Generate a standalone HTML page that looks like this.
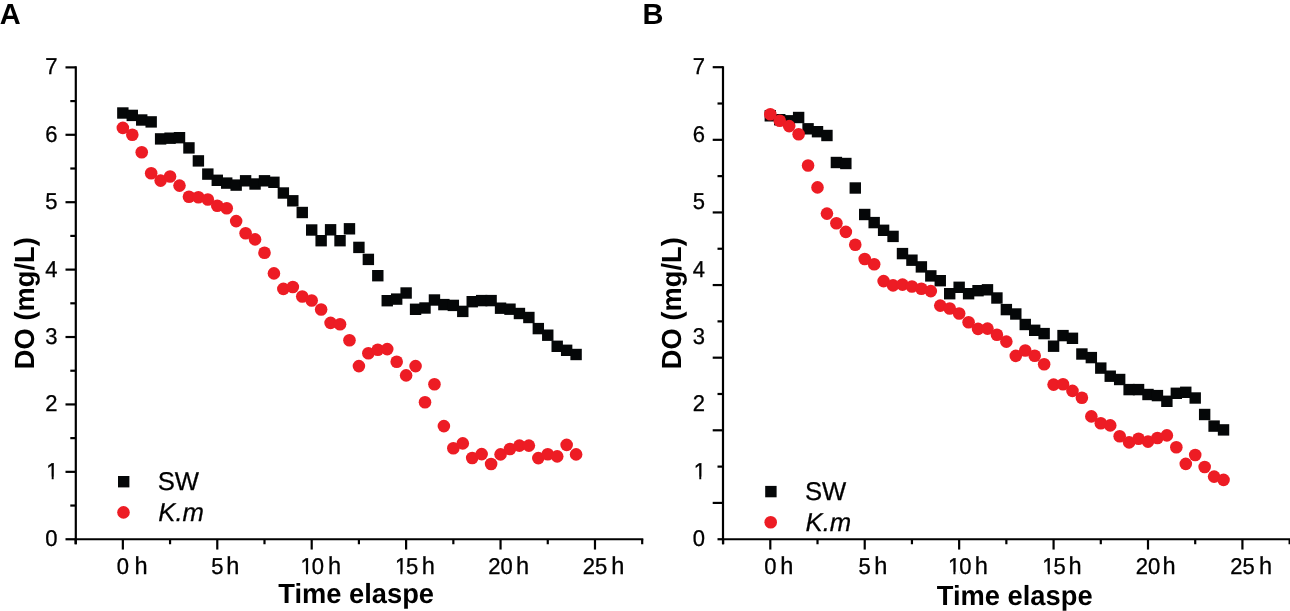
<!DOCTYPE html>
<html><head><meta charset="utf-8"><style>
html,body{margin:0;padding:0;background:#fff;}
svg{display:block;}
#w{will-change:transform;width:1290px;height:611px;}
text{font-family:"Liberation Sans",sans-serif;fill:#000;text-rendering:geometricPrecision;}
.tl{font-size:22px;stroke:#000;stroke-width:0.3px;}
.lg{font-size:25.7px;stroke:#000;stroke-width:0.25px;}
.th{font-size:23.6px;stroke:#000;stroke-width:0.3px;}
.tt{font-size:27.3px;font-weight:bold;}
.pl{font-size:29px;font-weight:bold;}
</style></head><body>
<div id="w">
<svg width="1290" height="611" viewBox="0 0 1290 611">
<rect width="1290" height="611" fill="#fff"/>
<line x1="75.80" y1="66.2" x2="75.80" y2="544.25" stroke="#000" stroke-width="2.2"/>
<line x1="74.70" y1="539.25" x2="643.29" y2="539.25" stroke="#000" stroke-width="2.2"/>
<line x1="65.50" y1="539.25" x2="75.80" y2="539.25" stroke="#000" stroke-width="2.2"/>
<line x1="70.30" y1="505.55" x2="75.80" y2="505.55" stroke="#000" stroke-width="2.2"/>
<line x1="65.50" y1="471.84" x2="75.80" y2="471.84" stroke="#000" stroke-width="2.2"/>
<line x1="70.30" y1="438.13" x2="75.80" y2="438.13" stroke="#000" stroke-width="2.2"/>
<line x1="65.50" y1="404.43" x2="75.80" y2="404.43" stroke="#000" stroke-width="2.2"/>
<line x1="70.30" y1="370.73" x2="75.80" y2="370.73" stroke="#000" stroke-width="2.2"/>
<line x1="65.50" y1="337.02" x2="75.80" y2="337.02" stroke="#000" stroke-width="2.2"/>
<line x1="70.30" y1="303.31" x2="75.80" y2="303.31" stroke="#000" stroke-width="2.2"/>
<line x1="65.50" y1="269.61" x2="75.80" y2="269.61" stroke="#000" stroke-width="2.2"/>
<line x1="70.30" y1="235.91" x2="75.80" y2="235.91" stroke="#000" stroke-width="2.2"/>
<line x1="65.50" y1="202.20" x2="75.80" y2="202.20" stroke="#000" stroke-width="2.2"/>
<line x1="70.30" y1="168.50" x2="75.80" y2="168.50" stroke="#000" stroke-width="2.2"/>
<line x1="65.50" y1="134.79" x2="75.80" y2="134.79" stroke="#000" stroke-width="2.2"/>
<line x1="70.30" y1="101.09" x2="75.80" y2="101.09" stroke="#000" stroke-width="2.2"/>
<line x1="65.50" y1="67.38" x2="75.80" y2="67.38" stroke="#000" stroke-width="2.2"/>
<line x1="75.64" y1="539.25" x2="75.64" y2="544.25" stroke="#000" stroke-width="2.2"/>
<line x1="122.85" y1="539.25" x2="122.85" y2="549.55" stroke="#000" stroke-width="2.2"/>
<line x1="170.06" y1="539.25" x2="170.06" y2="544.25" stroke="#000" stroke-width="2.2"/>
<line x1="217.28" y1="539.25" x2="217.28" y2="549.55" stroke="#000" stroke-width="2.2"/>
<line x1="264.49" y1="539.25" x2="264.49" y2="544.25" stroke="#000" stroke-width="2.2"/>
<line x1="311.70" y1="539.25" x2="311.70" y2="549.55" stroke="#000" stroke-width="2.2"/>
<line x1="358.91" y1="539.25" x2="358.91" y2="544.25" stroke="#000" stroke-width="2.2"/>
<line x1="406.12" y1="539.25" x2="406.12" y2="549.55" stroke="#000" stroke-width="2.2"/>
<line x1="453.34" y1="539.25" x2="453.34" y2="544.25" stroke="#000" stroke-width="2.2"/>
<line x1="500.55" y1="539.25" x2="500.55" y2="549.55" stroke="#000" stroke-width="2.2"/>
<line x1="547.76" y1="539.25" x2="547.76" y2="544.25" stroke="#000" stroke-width="2.2"/>
<line x1="594.98" y1="539.25" x2="594.98" y2="549.55" stroke="#000" stroke-width="2.2"/>
<line x1="642.19" y1="539.25" x2="642.19" y2="544.25" stroke="#000" stroke-width="2.2"/>
<text transform="translate(45.16,546.15) scale(1,1.04)" class="tl">0</text>
<text transform="translate(46.16,478.74) scale(1,1.04)" class="tl">1</text>
<rect x="46.27" y="476.68" width="5.43" height="3.66" fill="#fff"/>
<rect x="53.64" y="476.68" width="4.41" height="3.66" fill="#fff"/>
<text transform="translate(45.16,411.33) scale(1,1.04)" class="tl">2</text>
<text transform="translate(45.16,343.92) scale(1,1.04)" class="tl">3</text>
<text transform="translate(45.16,276.51) scale(1,1.04)" class="tl">4</text>
<text transform="translate(45.16,209.10) scale(1,1.04)" class="tl">5</text>
<text transform="translate(45.16,141.69) scale(1,1.04)" class="tl">6</text>
<text transform="translate(45.16,74.28) scale(1,1.04)" class="tl">7</text>
<text transform="translate(116.73,573.9) scale(1,1.04)" class="tl">0</text>
<text transform="translate(134.50,573.9) scale(1,1.04)" class="th">h</text>
<text transform="translate(211.16,573.9) scale(1,1.04)" class="tl">5</text>
<text transform="translate(226.20,573.9) scale(1,1.04)" class="th">h</text>
<text transform="translate(300.46,573.9) scale(1,1.04)" class="tl">1</text>
<rect x="300.57" y="571.84" width="5.43" height="3.66" fill="#fff"/>
<rect x="307.94" y="571.84" width="4.41" height="3.66" fill="#fff"/>
<text transform="translate(311.70,573.9) scale(1,1.04)" class="tl">0</text>
<text transform="translate(328.10,573.9) scale(1,1.04)" class="th">h</text>
<text transform="translate(394.89,573.9) scale(1,1.04)" class="tl">1</text>
<rect x="394.99" y="571.84" width="5.43" height="3.66" fill="#fff"/>
<rect x="402.37" y="571.84" width="4.41" height="3.66" fill="#fff"/>
<text transform="translate(406.12,573.9) scale(1,1.04)" class="tl">5</text>
<text transform="translate(421.70,573.9) scale(1,1.04)" class="th">h</text>
<text transform="translate(488.31,573.9) scale(1,1.04)" class="tl">20</text>
<text transform="translate(515.90,573.9) scale(1,1.04)" class="th">h</text>
<text transform="translate(582.74,573.9) scale(1,1.04)" class="tl">25</text>
<text transform="translate(611.30,573.9) scale(1,1.04)" class="th">h</text>
<circle cx="122.85" cy="127.90" r="6.3" fill="#ED1C24"/>
<circle cx="132.29" cy="134.70" r="6.3" fill="#ED1C24"/>
<circle cx="141.73" cy="152.20" r="6.3" fill="#ED1C24"/>
<circle cx="151.18" cy="173.20" r="6.3" fill="#ED1C24"/>
<circle cx="160.62" cy="180.60" r="6.3" fill="#ED1C24"/>
<circle cx="170.06" cy="176.50" r="6.3" fill="#ED1C24"/>
<circle cx="179.50" cy="185.60" r="6.3" fill="#ED1C24"/>
<circle cx="188.95" cy="196.70" r="6.3" fill="#ED1C24"/>
<circle cx="198.39" cy="197.30" r="6.3" fill="#ED1C24"/>
<circle cx="207.83" cy="199.50" r="6.3" fill="#ED1C24"/>
<circle cx="217.28" cy="205.70" r="6.3" fill="#ED1C24"/>
<circle cx="226.72" cy="208.20" r="6.3" fill="#ED1C24"/>
<circle cx="236.16" cy="221.10" r="6.3" fill="#ED1C24"/>
<circle cx="245.60" cy="233.20" r="6.3" fill="#ED1C24"/>
<circle cx="255.05" cy="239.40" r="6.3" fill="#ED1C24"/>
<circle cx="264.49" cy="252.70" r="6.3" fill="#ED1C24"/>
<circle cx="273.93" cy="273.40" r="6.3" fill="#ED1C24"/>
<circle cx="283.37" cy="288.90" r="6.3" fill="#ED1C24"/>
<circle cx="292.81" cy="287.00" r="6.3" fill="#ED1C24"/>
<circle cx="302.26" cy="296.50" r="6.3" fill="#ED1C24"/>
<circle cx="311.70" cy="300.50" r="6.3" fill="#ED1C24"/>
<circle cx="321.14" cy="309.50" r="6.3" fill="#ED1C24"/>
<circle cx="330.59" cy="322.90" r="6.3" fill="#ED1C24"/>
<circle cx="340.03" cy="324.20" r="6.3" fill="#ED1C24"/>
<circle cx="349.47" cy="340.30" r="6.3" fill="#ED1C24"/>
<circle cx="358.91" cy="366.10" r="6.3" fill="#ED1C24"/>
<circle cx="368.36" cy="353.20" r="6.3" fill="#ED1C24"/>
<circle cx="377.80" cy="349.80" r="6.3" fill="#ED1C24"/>
<circle cx="387.24" cy="349.10" r="6.3" fill="#ED1C24"/>
<circle cx="396.68" cy="361.80" r="6.3" fill="#ED1C24"/>
<circle cx="406.12" cy="375.40" r="6.3" fill="#ED1C24"/>
<circle cx="415.57" cy="366.10" r="6.3" fill="#ED1C24"/>
<circle cx="425.01" cy="402.30" r="6.3" fill="#ED1C24"/>
<circle cx="434.45" cy="384.20" r="6.3" fill="#ED1C24"/>
<circle cx="443.89" cy="426.10" r="6.3" fill="#ED1C24"/>
<circle cx="453.34" cy="448.20" r="6.3" fill="#ED1C24"/>
<circle cx="462.78" cy="443.40" r="6.3" fill="#ED1C24"/>
<circle cx="472.22" cy="458.00" r="6.3" fill="#ED1C24"/>
<circle cx="481.67" cy="454.10" r="6.3" fill="#ED1C24"/>
<circle cx="491.11" cy="464.00" r="6.3" fill="#ED1C24"/>
<circle cx="500.55" cy="454.40" r="6.3" fill="#ED1C24"/>
<circle cx="509.99" cy="449.00" r="6.3" fill="#ED1C24"/>
<circle cx="519.44" cy="445.60" r="6.3" fill="#ED1C24"/>
<circle cx="528.88" cy="445.60" r="6.3" fill="#ED1C24"/>
<circle cx="538.32" cy="458.10" r="6.3" fill="#ED1C24"/>
<circle cx="547.76" cy="454.20" r="6.3" fill="#ED1C24"/>
<circle cx="557.21" cy="456.40" r="6.3" fill="#ED1C24"/>
<circle cx="566.65" cy="444.90" r="6.3" fill="#ED1C24"/>
<circle cx="576.09" cy="454.40" r="6.3" fill="#ED1C24"/>
<rect x="117.15" y="107.30" width="11.4" height="11.4" fill="#050708"/>
<rect x="126.59" y="109.70" width="11.4" height="11.4" fill="#050708"/>
<rect x="136.03" y="114.30" width="11.4" height="11.4" fill="#050708"/>
<rect x="145.48" y="116.20" width="11.4" height="11.4" fill="#050708"/>
<rect x="154.92" y="133.20" width="11.4" height="11.4" fill="#050708"/>
<rect x="164.36" y="132.50" width="11.4" height="11.4" fill="#050708"/>
<rect x="173.81" y="132.00" width="11.4" height="11.4" fill="#050708"/>
<rect x="183.25" y="142.20" width="11.4" height="11.4" fill="#050708"/>
<rect x="192.69" y="155.20" width="11.4" height="11.4" fill="#050708"/>
<rect x="202.13" y="168.40" width="11.4" height="11.4" fill="#050708"/>
<rect x="211.58" y="174.60" width="11.4" height="11.4" fill="#050708"/>
<rect x="221.02" y="177.40" width="11.4" height="11.4" fill="#050708"/>
<rect x="230.46" y="179.40" width="11.4" height="11.4" fill="#050708"/>
<rect x="239.90" y="175.10" width="11.4" height="11.4" fill="#050708"/>
<rect x="249.35" y="178.30" width="11.4" height="11.4" fill="#050708"/>
<rect x="258.79" y="175.10" width="11.4" height="11.4" fill="#050708"/>
<rect x="268.23" y="176.60" width="11.4" height="11.4" fill="#050708"/>
<rect x="277.67" y="187.30" width="11.4" height="11.4" fill="#050708"/>
<rect x="287.12" y="195.10" width="11.4" height="11.4" fill="#050708"/>
<rect x="296.56" y="206.80" width="11.4" height="11.4" fill="#050708"/>
<rect x="306.00" y="224.30" width="11.4" height="11.4" fill="#050708"/>
<rect x="315.44" y="235.00" width="11.4" height="11.4" fill="#050708"/>
<rect x="324.89" y="224.10" width="11.4" height="11.4" fill="#050708"/>
<rect x="334.33" y="235.00" width="11.4" height="11.4" fill="#050708"/>
<rect x="343.77" y="223.10" width="11.4" height="11.4" fill="#050708"/>
<rect x="353.21" y="241.70" width="11.4" height="11.4" fill="#050708"/>
<rect x="362.66" y="253.70" width="11.4" height="11.4" fill="#050708"/>
<rect x="372.10" y="270.00" width="11.4" height="11.4" fill="#050708"/>
<rect x="381.54" y="295.00" width="11.4" height="11.4" fill="#050708"/>
<rect x="390.98" y="293.40" width="11.4" height="11.4" fill="#050708"/>
<rect x="400.43" y="287.30" width="11.4" height="11.4" fill="#050708"/>
<rect x="409.87" y="303.60" width="11.4" height="11.4" fill="#050708"/>
<rect x="419.31" y="302.30" width="11.4" height="11.4" fill="#050708"/>
<rect x="428.75" y="294.30" width="11.4" height="11.4" fill="#050708"/>
<rect x="438.19" y="298.90" width="11.4" height="11.4" fill="#050708"/>
<rect x="447.64" y="299.70" width="11.4" height="11.4" fill="#050708"/>
<rect x="457.08" y="305.70" width="11.4" height="11.4" fill="#050708"/>
<rect x="466.52" y="296.00" width="11.4" height="11.4" fill="#050708"/>
<rect x="475.97" y="294.90" width="11.4" height="11.4" fill="#050708"/>
<rect x="485.41" y="294.90" width="11.4" height="11.4" fill="#050708"/>
<rect x="494.85" y="302.50" width="11.4" height="11.4" fill="#050708"/>
<rect x="504.29" y="303.50" width="11.4" height="11.4" fill="#050708"/>
<rect x="513.74" y="307.80" width="11.4" height="11.4" fill="#050708"/>
<rect x="523.18" y="311.80" width="11.4" height="11.4" fill="#050708"/>
<rect x="532.62" y="322.90" width="11.4" height="11.4" fill="#050708"/>
<rect x="542.06" y="329.50" width="11.4" height="11.4" fill="#050708"/>
<rect x="551.50" y="340.60" width="11.4" height="11.4" fill="#050708"/>
<rect x="560.95" y="344.60" width="11.4" height="11.4" fill="#050708"/>
<rect x="570.39" y="348.80" width="11.4" height="11.4" fill="#050708"/>
<rect x="118.00" y="476.00" width="11.4" height="11.4" fill="#050708"/>
<circle cx="123.50" cy="512.40" r="6.3" fill="#ED1C24"/>
<text x="157.7" y="489.8" class="lg">SW</text>
<text x="158.3" y="521.3" class="lg" font-style="italic">K.m</text>
<text transform="translate(278.2,603.3) scale(1,1.015)" class="tt">Time elaspe</text>
<text transform="translate(34.3,303.2) rotate(-90) scale(1,1.015)" class="tt" text-anchor="middle">DO (mg/L)</text>
<text x="-0.3" y="23.6" class="pl">A</text>
<line x1="723.00" y1="66.2" x2="723.00" y2="544.25" stroke="#000" stroke-width="2.2"/>
<line x1="721.90" y1="539.25" x2="1290.74" y2="539.25" stroke="#000" stroke-width="2.2"/>
<line x1="712.70" y1="67.20" x2="723.00" y2="67.20" stroke="#000" stroke-width="2.2"/>
<line x1="717.50" y1="103.51" x2="723.00" y2="103.51" stroke="#000" stroke-width="2.2"/>
<line x1="712.70" y1="139.82" x2="723.00" y2="139.82" stroke="#000" stroke-width="2.2"/>
<line x1="717.50" y1="176.13" x2="723.00" y2="176.13" stroke="#000" stroke-width="2.2"/>
<line x1="712.70" y1="212.44" x2="723.00" y2="212.44" stroke="#000" stroke-width="2.2"/>
<line x1="717.50" y1="248.75" x2="723.00" y2="248.75" stroke="#000" stroke-width="2.2"/>
<line x1="712.70" y1="285.06" x2="723.00" y2="285.06" stroke="#000" stroke-width="2.2"/>
<line x1="717.50" y1="321.37" x2="723.00" y2="321.37" stroke="#000" stroke-width="2.2"/>
<line x1="712.70" y1="357.68" x2="723.00" y2="357.68" stroke="#000" stroke-width="2.2"/>
<line x1="717.50" y1="393.99" x2="723.00" y2="393.99" stroke="#000" stroke-width="2.2"/>
<line x1="712.70" y1="430.30" x2="723.00" y2="430.30" stroke="#000" stroke-width="2.2"/>
<line x1="717.50" y1="466.61" x2="723.00" y2="466.61" stroke="#000" stroke-width="2.2"/>
<line x1="712.70" y1="502.92" x2="723.00" y2="502.92" stroke="#000" stroke-width="2.2"/>
<line x1="717.50" y1="539.23" x2="723.00" y2="539.23" stroke="#000" stroke-width="2.2"/>
<line x1="723.09" y1="539.25" x2="723.09" y2="544.25" stroke="#000" stroke-width="2.2"/>
<line x1="770.30" y1="539.25" x2="770.30" y2="549.55" stroke="#000" stroke-width="2.2"/>
<line x1="817.51" y1="539.25" x2="817.51" y2="544.25" stroke="#000" stroke-width="2.2"/>
<line x1="864.72" y1="539.25" x2="864.72" y2="549.55" stroke="#000" stroke-width="2.2"/>
<line x1="911.94" y1="539.25" x2="911.94" y2="544.25" stroke="#000" stroke-width="2.2"/>
<line x1="959.15" y1="539.25" x2="959.15" y2="549.55" stroke="#000" stroke-width="2.2"/>
<line x1="1006.36" y1="539.25" x2="1006.36" y2="544.25" stroke="#000" stroke-width="2.2"/>
<line x1="1053.58" y1="539.25" x2="1053.58" y2="549.55" stroke="#000" stroke-width="2.2"/>
<line x1="1100.79" y1="539.25" x2="1100.79" y2="544.25" stroke="#000" stroke-width="2.2"/>
<line x1="1148.00" y1="539.25" x2="1148.00" y2="549.55" stroke="#000" stroke-width="2.2"/>
<line x1="1195.21" y1="539.25" x2="1195.21" y2="544.25" stroke="#000" stroke-width="2.2"/>
<line x1="1242.42" y1="539.25" x2="1242.42" y2="549.55" stroke="#000" stroke-width="2.2"/>
<line x1="1289.64" y1="539.25" x2="1289.64" y2="544.25" stroke="#000" stroke-width="2.2"/>
<text transform="translate(692.76,546.15) scale(1,1.04)" class="tl">0</text>
<text transform="translate(693.76,478.74) scale(1,1.04)" class="tl">1</text>
<rect x="693.87" y="476.68" width="5.43" height="3.66" fill="#fff"/>
<rect x="701.24" y="476.68" width="4.41" height="3.66" fill="#fff"/>
<text transform="translate(692.76,411.33) scale(1,1.04)" class="tl">2</text>
<text transform="translate(692.76,343.92) scale(1,1.04)" class="tl">3</text>
<text transform="translate(692.76,276.51) scale(1,1.04)" class="tl">4</text>
<text transform="translate(692.76,209.10) scale(1,1.04)" class="tl">5</text>
<text transform="translate(692.76,141.69) scale(1,1.04)" class="tl">6</text>
<text transform="translate(692.76,74.28) scale(1,1.04)" class="tl">7</text>
<text transform="translate(764.18,573.9) scale(1,1.04)" class="tl">0</text>
<text transform="translate(780.20,573.9) scale(1,1.04)" class="th">h</text>
<text transform="translate(858.61,573.9) scale(1,1.04)" class="tl">5</text>
<text transform="translate(874.30,573.9) scale(1,1.04)" class="th">h</text>
<text transform="translate(947.91,573.9) scale(1,1.04)" class="tl">1</text>
<rect x="948.02" y="571.84" width="5.43" height="3.66" fill="#fff"/>
<rect x="955.39" y="571.84" width="4.41" height="3.66" fill="#fff"/>
<text transform="translate(959.15,573.9) scale(1,1.04)" class="tl">0</text>
<text transform="translate(974.80,573.9) scale(1,1.04)" class="th">h</text>
<text transform="translate(1042.34,573.9) scale(1,1.04)" class="tl">1</text>
<rect x="1042.44" y="571.84" width="5.43" height="3.66" fill="#fff"/>
<rect x="1049.82" y="571.84" width="4.41" height="3.66" fill="#fff"/>
<text transform="translate(1053.58,573.9) scale(1,1.04)" class="tl">5</text>
<text transform="translate(1068.60,573.9) scale(1,1.04)" class="th">h</text>
<text transform="translate(1135.76,573.9) scale(1,1.04)" class="tl">20</text>
<text transform="translate(1162.60,573.9) scale(1,1.04)" class="th">h</text>
<text transform="translate(1230.19,573.9) scale(1,1.04)" class="tl">25</text>
<text transform="translate(1259.00,573.9) scale(1,1.04)" class="th">h</text>
<rect x="764.60" y="110.10" width="11.4" height="11.4" fill="#050708"/>
<rect x="774.04" y="114.00" width="11.4" height="11.4" fill="#050708"/>
<rect x="783.48" y="115.10" width="11.4" height="11.4" fill="#050708"/>
<rect x="792.93" y="111.80" width="11.4" height="11.4" fill="#050708"/>
<rect x="802.37" y="123.10" width="11.4" height="11.4" fill="#050708"/>
<rect x="811.81" y="126.00" width="11.4" height="11.4" fill="#050708"/>
<rect x="821.25" y="129.80" width="11.4" height="11.4" fill="#050708"/>
<rect x="830.70" y="156.80" width="11.4" height="11.4" fill="#050708"/>
<rect x="840.14" y="157.80" width="11.4" height="11.4" fill="#050708"/>
<rect x="849.58" y="182.30" width="11.4" height="11.4" fill="#050708"/>
<rect x="859.02" y="208.80" width="11.4" height="11.4" fill="#050708"/>
<rect x="868.47" y="216.90" width="11.4" height="11.4" fill="#050708"/>
<rect x="877.91" y="224.60" width="11.4" height="11.4" fill="#050708"/>
<rect x="887.35" y="230.70" width="11.4" height="11.4" fill="#050708"/>
<rect x="896.79" y="247.90" width="11.4" height="11.4" fill="#050708"/>
<rect x="906.24" y="254.50" width="11.4" height="11.4" fill="#050708"/>
<rect x="915.68" y="261.20" width="11.4" height="11.4" fill="#050708"/>
<rect x="925.12" y="270.20" width="11.4" height="11.4" fill="#050708"/>
<rect x="934.56" y="275.00" width="11.4" height="11.4" fill="#050708"/>
<rect x="944.01" y="288.00" width="11.4" height="11.4" fill="#050708"/>
<rect x="953.45" y="281.60" width="11.4" height="11.4" fill="#050708"/>
<rect x="962.89" y="288.00" width="11.4" height="11.4" fill="#050708"/>
<rect x="972.33" y="285.00" width="11.4" height="11.4" fill="#050708"/>
<rect x="981.78" y="284.10" width="11.4" height="11.4" fill="#050708"/>
<rect x="991.22" y="292.30" width="11.4" height="11.4" fill="#050708"/>
<rect x="1000.66" y="303.90" width="11.4" height="11.4" fill="#050708"/>
<rect x="1010.10" y="308.30" width="11.4" height="11.4" fill="#050708"/>
<rect x="1019.55" y="318.80" width="11.4" height="11.4" fill="#050708"/>
<rect x="1028.99" y="324.60" width="11.4" height="11.4" fill="#050708"/>
<rect x="1038.43" y="327.90" width="11.4" height="11.4" fill="#050708"/>
<rect x="1047.88" y="340.50" width="11.4" height="11.4" fill="#050708"/>
<rect x="1057.32" y="329.90" width="11.4" height="11.4" fill="#050708"/>
<rect x="1066.76" y="332.60" width="11.4" height="11.4" fill="#050708"/>
<rect x="1076.20" y="348.30" width="11.4" height="11.4" fill="#050708"/>
<rect x="1085.64" y="351.90" width="11.4" height="11.4" fill="#050708"/>
<rect x="1095.09" y="362.40" width="11.4" height="11.4" fill="#050708"/>
<rect x="1104.53" y="370.50" width="11.4" height="11.4" fill="#050708"/>
<rect x="1113.97" y="373.80" width="11.4" height="11.4" fill="#050708"/>
<rect x="1123.41" y="383.90" width="11.4" height="11.4" fill="#050708"/>
<rect x="1132.86" y="383.90" width="11.4" height="11.4" fill="#050708"/>
<rect x="1142.30" y="388.80" width="11.4" height="11.4" fill="#050708"/>
<rect x="1151.74" y="389.90" width="11.4" height="11.4" fill="#050708"/>
<rect x="1161.18" y="395.60" width="11.4" height="11.4" fill="#050708"/>
<rect x="1170.63" y="387.60" width="11.4" height="11.4" fill="#050708"/>
<rect x="1180.07" y="386.60" width="11.4" height="11.4" fill="#050708"/>
<rect x="1189.51" y="392.30" width="11.4" height="11.4" fill="#050708"/>
<rect x="1198.95" y="408.80" width="11.4" height="11.4" fill="#050708"/>
<rect x="1208.40" y="420.40" width="11.4" height="11.4" fill="#050708"/>
<rect x="1217.84" y="424.20" width="11.4" height="11.4" fill="#050708"/>
<circle cx="770.30" cy="114.30" r="6.3" fill="#ED1C24"/>
<circle cx="779.74" cy="120.70" r="6.3" fill="#ED1C24"/>
<circle cx="789.18" cy="126.10" r="6.3" fill="#ED1C24"/>
<circle cx="798.63" cy="134.20" r="6.3" fill="#ED1C24"/>
<circle cx="808.07" cy="165.50" r="6.3" fill="#ED1C24"/>
<circle cx="817.51" cy="187.40" r="6.3" fill="#ED1C24"/>
<circle cx="826.95" cy="213.60" r="6.3" fill="#ED1C24"/>
<circle cx="836.40" cy="223.30" r="6.3" fill="#ED1C24"/>
<circle cx="845.84" cy="231.90" r="6.3" fill="#ED1C24"/>
<circle cx="855.28" cy="244.80" r="6.3" fill="#ED1C24"/>
<circle cx="864.72" cy="259.00" r="6.3" fill="#ED1C24"/>
<circle cx="874.17" cy="264.30" r="6.3" fill="#ED1C24"/>
<circle cx="883.61" cy="281.10" r="6.3" fill="#ED1C24"/>
<circle cx="893.05" cy="285.40" r="6.3" fill="#ED1C24"/>
<circle cx="902.50" cy="284.60" r="6.3" fill="#ED1C24"/>
<circle cx="911.94" cy="286.50" r="6.3" fill="#ED1C24"/>
<circle cx="921.38" cy="288.70" r="6.3" fill="#ED1C24"/>
<circle cx="930.82" cy="291.10" r="6.3" fill="#ED1C24"/>
<circle cx="940.26" cy="305.60" r="6.3" fill="#ED1C24"/>
<circle cx="949.71" cy="308.50" r="6.3" fill="#ED1C24"/>
<circle cx="959.15" cy="313.50" r="6.3" fill="#ED1C24"/>
<circle cx="968.59" cy="322.30" r="6.3" fill="#ED1C24"/>
<circle cx="978.03" cy="328.90" r="6.3" fill="#ED1C24"/>
<circle cx="987.48" cy="328.60" r="6.3" fill="#ED1C24"/>
<circle cx="996.92" cy="334.80" r="6.3" fill="#ED1C24"/>
<circle cx="1006.36" cy="341.60" r="6.3" fill="#ED1C24"/>
<circle cx="1015.80" cy="355.90" r="6.3" fill="#ED1C24"/>
<circle cx="1025.25" cy="350.50" r="6.3" fill="#ED1C24"/>
<circle cx="1034.69" cy="355.80" r="6.3" fill="#ED1C24"/>
<circle cx="1044.13" cy="364.30" r="6.3" fill="#ED1C24"/>
<circle cx="1053.58" cy="384.60" r="6.3" fill="#ED1C24"/>
<circle cx="1063.02" cy="384.20" r="6.3" fill="#ED1C24"/>
<circle cx="1072.46" cy="390.90" r="6.3" fill="#ED1C24"/>
<circle cx="1081.90" cy="397.70" r="6.3" fill="#ED1C24"/>
<circle cx="1091.35" cy="416.40" r="6.3" fill="#ED1C24"/>
<circle cx="1100.79" cy="423.20" r="6.3" fill="#ED1C24"/>
<circle cx="1110.23" cy="425.40" r="6.3" fill="#ED1C24"/>
<circle cx="1119.67" cy="436.30" r="6.3" fill="#ED1C24"/>
<circle cx="1129.12" cy="442.40" r="6.3" fill="#ED1C24"/>
<circle cx="1138.56" cy="438.70" r="6.3" fill="#ED1C24"/>
<circle cx="1148.00" cy="441.60" r="6.3" fill="#ED1C24"/>
<circle cx="1157.44" cy="438.00" r="6.3" fill="#ED1C24"/>
<circle cx="1166.88" cy="435.40" r="6.3" fill="#ED1C24"/>
<circle cx="1176.33" cy="447.20" r="6.3" fill="#ED1C24"/>
<circle cx="1185.77" cy="463.90" r="6.3" fill="#ED1C24"/>
<circle cx="1195.21" cy="455.00" r="6.3" fill="#ED1C24"/>
<circle cx="1204.65" cy="467.00" r="6.3" fill="#ED1C24"/>
<circle cx="1214.10" cy="476.60" r="6.3" fill="#ED1C24"/>
<circle cx="1223.54" cy="479.90" r="6.3" fill="#ED1C24"/>
<rect x="765.20" y="485.90" width="11.4" height="11.4" fill="#050708"/>
<circle cx="770.70" cy="522.30" r="6.3" fill="#ED1C24"/>
<text x="804.9" y="499.7" class="lg">SW</text>
<text x="805.5" y="531.2" class="lg" font-style="italic">K.m</text>
<text transform="translate(936.8,605.4) scale(1,1.015)" class="tt">Time elaspe</text>
<text transform="translate(680.5,303.2) rotate(-90) scale(1,1.015)" class="tt" text-anchor="middle">DO (mg/L)</text>
<text x="642.6" y="23.6" class="pl">B</text>
</svg>
</div>
</body></html>
